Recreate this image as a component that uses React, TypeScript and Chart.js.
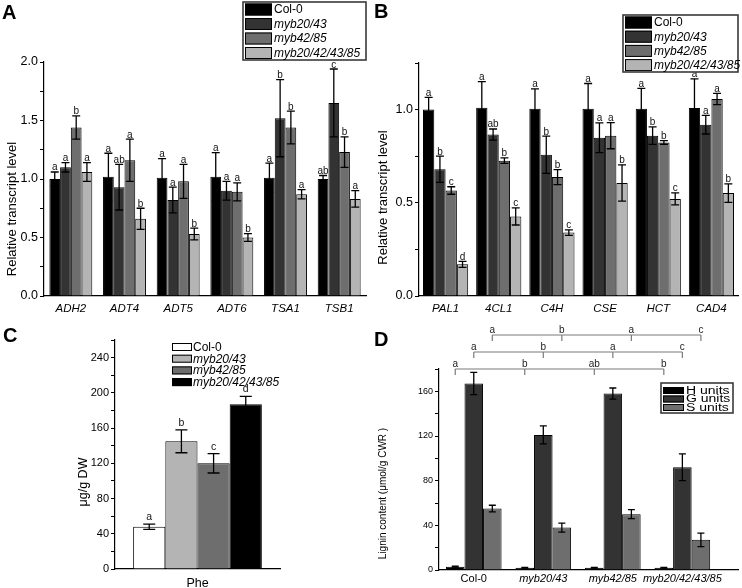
import React, { useEffect, useRef } from 'react';
import { Chart, registerables } from 'chart.js';
Chart.register(...registerables);

const FONT = '"Liberation Sans", Arial, Helvetica, sans-serif';

// ---------- data ----------
const genotypes = ['Col-0', 'myb20/43', 'myb42/85', 'myb20/42/43/85'];

const genesA = ['ADH2', 'ADT4', 'ADT5', 'ADT6', 'TSA1', 'TSB1'];
const aCol0 = [1.0, 1.02, 1.01, 1.02, 1.01, 1.0];
const aMyb2043 = [1.1, 0.93, 0.82, 0.9, 1.52, 1.65];
const aMyb4285 = [1.44, 1.16, 0.98, 0.89, 1.44, 1.23];
const aQuad = [1.06, 0.66, 0.53, 0.5, 0.87, 0.83];
const aCol0Err = [0.06, 0.2, 0.165, 0.205, 0.125, 0.03];
const aMyb2043Err = [0.04, 0.195, 0.11, 0.08, 0.33, 0.29];
const aMyb4285Err = [0.1, 0.18, 0.145, 0.077, 0.14, 0.13];
const aQuadErr = [0.08, 0.09, 0.05, 0.033, 0.04, 0.07];
const aCol0Sig = ['a', 'a', 'a', 'a', 'a', 'ab'];
const aMyb2043Sig = ['a', 'ab', 'a', 'a', 'b', 'c'];
const aMyb4285Sig = ['b', 'a', 'a', 'a', 'b', 'b'];
const aQuadSig = ['a', 'b', 'b', 'b', 'a', 'a'];

const genesB = ['PAL1', '4CL1', 'C4H', 'CSE', 'HCT', 'CAD4'];
const bCol0 = [1.0, 1.01, 1.005, 1.005, 1.004, 1.009];
const bMyb2043 = [0.68, 0.866, 0.758, 0.849, 0.86, 0.919];
const bMyb4285 = [0.566, 0.726, 0.638, 0.86, 0.824, 1.057];
const bQuad = [0.17, 0.427, 0.34, 0.606, 0.521, 0.552];
const bCol0Err = [0.066, 0.14, 0.106, 0.135, 0.11, 0.156];
const bMyb2043Err = [0.07, 0.03, 0.1, 0.08, 0.047, 0.05];
const bMyb4285Err = [0.02, 0.015, 0.04, 0.07, 0.01, 0.03];
const bQuadErr = [0.016, 0.046, 0.015, 0.097, 0.032, 0.05];
const bCol0Sig = ['a', 'a', 'a', 'a', 'a', 'a'];
const bMyb2043Sig = ['b', 'ab', 'b', 'a', 'b', 'a'];
const bMyb4285Sig = ['c', 'b', 'b', 'a', 'b', 'a'];
const bQuadSig = ['d', 'c', 'c', 'b', 'c', 'b'];

const cCategory = ['Phe'];
const cPhe = [48, 145, 120, 187];
const cPheErr = [3, 13, 11, 9];
const cPheSig = ['a', 'b', 'c', 'd'];

const dLines = ['Col-0', 'myb20/43', 'myb42/85', 'myb20/42/43/85'];
const dUnits = ['H units', 'G units', 'S units'];
const dH = [3, 2, 2, 2];
const dG = [167, 121, 158, 92];
const dS = [55, 38, 50, 27];
const dHErr = [0.5, 0.4, 0.4, 0.4];
const dGErr = [10, 8, 5, 12];
const dSErr = [3, 4, 4, 6];
const dHSig = ['a', 'b', 'ab', 'b'];
const dGSig = ['a', 'b', 'a', 'c'];
const dSSig = ['a', 'b', 'a', 'c'];

// ---------- styles ----------
const greysABD = ['#000000', '#333333', '#6e6e6e', '#b4b4b4'];
const greysC = ['#ffffff', '#b4b4b4', '#6e6e6e', '#000000'];

type LegendOpt = {
  x: number; y: number; w: number; h: number; box: boolean;
  rowY: number; rowH: number; sw: number; sh: number; swX: number; textX: number;
  size: number; italicFrom: number; stretch?: number;
};
type Extra = {
  errors?: number[][];
  letters?: string[][];
  cap?: number;
  letterSize?: number;
  letterGap?: number;
  legend?: LegendOpt;
  yTitle?: { text: string; x: number; y: number; size: number };
  panel?: { text: string; x: number; y: number };
  brackets?: { rowY: number[]; letters: string[][]; tick: number };
};

function valOf(raw: any) {
  return typeof raw === 'number' ? raw : raw.y;
}

function makeExtras(ex: Extra) {
  return {
    id: 'extras',
    afterDatasetsDraw(chart: any) {
      const ctx = chart.ctx as CanvasRenderingContext2D;
      const ys = chart.scales.y;
      if (!ex.errors) return;
      ctx.save();
      ctx.strokeStyle = '#000';
      ctx.lineWidth = 1.3;
      ctx.fillStyle = '#111';
      ctx.font = `${ex.letterSize || 10}px ${FONT}`;
      ctx.textAlign = 'center';
      ctx.textBaseline = 'alphabetic';
      const cap = ex.cap || 8;
      chart.data.datasets.forEach((ds: any, di: number) => {
        const meta = chart.getDatasetMeta(di);
        meta.data.forEach((bar: any, j: number) => {
          const v = valOf(ds.data[j]);
          const e = (ex.errors![di] && ex.errors![di][j]) || 0;
          const x = bar.x;
          const top = ys.getPixelForValue(v + e);
          const bot = ys.getPixelForValue(Math.max(0, v - e));
          if (e > 0) {
            ctx.beginPath();
            ctx.moveTo(x, top);
            ctx.lineTo(x, bot);
            ctx.moveTo(x - cap / 2, top);
            ctx.lineTo(x + cap / 2, top);
            ctx.moveTo(x - cap / 2, bot);
            ctx.lineTo(x + cap / 2, bot);
            ctx.stroke();
          }
          const l = ex.letters && ex.letters[di] ? ex.letters[di][j] : '';
          if (l) ctx.fillText(l, x, top - (ex.letterGap ?? 2));
        });
      });
      ctx.restore();
    },
    afterDraw(chart: any) {
      const ctx = chart.ctx as CanvasRenderingContext2D;
      // brackets (panel D)
      if (ex.brackets) {
        const br = ex.brackets;
        ctx.save();
        chart.data.datasets.forEach((ds: any, di: number) => {
          const meta = chart.getDatasetMeta(di);
          const xs = meta.data.map((b: any) => b.x);
          const y = br.rowY[di];
          ctx.strokeStyle = '#7a7a7a';
          ctx.lineWidth = 1.2;
          ctx.beginPath();
          ctx.moveTo(xs[0], y);
          ctx.lineTo(xs[xs.length - 1], y);
          xs.forEach((x: number) => {
            ctx.moveTo(x, y);
            ctx.lineTo(x, y + br.tick);
          });
          ctx.stroke();
          ctx.fillStyle = '#222';
          ctx.font = `10px ${FONT}`;
          ctx.textAlign = 'center';
          ctx.textBaseline = 'alphabetic';
          xs.forEach((x: number, j: number) => ctx.fillText(br.letters[di][j], x, y - 2.5));
        });
        ctx.restore();
      }
      // legend
      if (ex.legend) {
        const lg = ex.legend;
        ctx.save();
        if (lg.box) {
          ctx.fillStyle = '#fff';
          ctx.fillRect(lg.x, lg.y, lg.w, lg.h);
          ctx.strokeStyle = '#3a3a3a';
          ctx.lineWidth = 1.6;
          ctx.strokeRect(lg.x, lg.y, lg.w, lg.h);
        }
        chart.data.datasets.forEach((ds: any, i: number) => {
          const cy = lg.rowY + i * lg.rowH;
          ctx.fillStyle = ds.backgroundColor;
          ctx.fillRect(lg.swX, cy - lg.sh / 2, lg.sw, lg.sh);
          ctx.strokeStyle = '#000';
          ctx.lineWidth = 1;
          ctx.strokeRect(lg.swX + 0.5, cy - lg.sh / 2 + 0.5, lg.sw - 1, lg.sh - 1);
          ctx.fillStyle = '#000';
          const italic = i >= lg.italicFrom ? 'italic ' : '';
          ctx.font = `${italic}${lg.size}px ${FONT}`;
          ctx.textAlign = 'left';
          ctx.textBaseline = 'middle';
          ctx.save();
          ctx.translate(lg.textX, cy + 0.5);
          ctx.scale(lg.stretch || 1, 1);
          ctx.fillText(ds.label, 0, 0);
          ctx.restore();
        });
        ctx.restore();
      }
      // y title
      if (ex.yTitle) {
        const t = ex.yTitle;
        ctx.save();
        ctx.translate(t.x, t.y);
        ctx.rotate(-Math.PI / 2);
        ctx.fillStyle = '#000';
        ctx.font = `${t.size}px ${FONT}`;
        ctx.textAlign = 'center';
        ctx.textBaseline = 'middle';
        ctx.fillText(t.text, 0, 0);
        ctx.restore();
      }
      // panel letter
      if (ex.panel) {
        ctx.save();
        ctx.fillStyle = '#000';
        ctx.font = `bold 20px ${FONT}`;
        ctx.textAlign = 'left';
        ctx.textBaseline = 'alphabetic';
        ctx.fillText(ex.panel.text, ex.panel.x, ex.panel.y);
        ctx.restore();
      }
    },
  };
}

function isMultiple(v: number, m: number) {
  const r = v / m;
  return Math.abs(r - Math.round(r)) < 1e-6;
}

function yAxis(max: number, step: number, major: number, width: number, size: number, decimals: number) {
  return {
    type: 'linear',
    min: 0,
    max,
    ticks: {
      stepSize: step,
      autoSkip: false,
      color: '#000',
      padding: 2,
      font: { family: FONT, size },
      callback: (v: any) => (isMultiple(Number(v), major) ? Number(v).toFixed(decimals) : ''),
    },
    grid: { display: true, drawOnChartArea: false, drawTicks: true, tickLength: 4, color: '#000', tickColor: '#000', lineWidth: 1 },
    border: { display: true, color: '#000', width: 1.2 },
    afterFit: (s: any) => { s.width = width; },
  };
}

function catAxis(height: number, size: number, italic: boolean, padding: number) {
  return {
    type: 'category',
    grid: { display: false, drawTicks: false },
    border: { display: true, color: '#000', width: 1.2 },
    ticks: {
      color: '#000',
      autoSkip: false,
      maxRotation: 0,
      padding,
      font: { family: FONT, size, style: italic ? 'italic' : 'normal' },
    },
    afterFit: (s: any) => { s.height = height; },
  };
}

function barSet(label: string, data: any[], color: string, cat: number) {
  return {
    label,
    data,
    backgroundColor: color,
    borderColor: '#000',
    borderWidth: 1,
    categoryPercentage: cat,
    barPercentage: 1,
  };
}

const baseOpts = {
  responsive: false,
  animation: false,
  events: [],
  plugins: { legend: { display: false }, tooltip: { enabled: false } },
};

function configA(): any {
  return {
    type: 'bar',
    data: {
      labels: genesA,
      datasets: [
        barSet(genotypes[0], aCol0, greysABD[0], 0.8),
        barSet(genotypes[1], aMyb2043, greysABD[1], 0.8),
        barSet(genotypes[2], aMyb4285, greysABD[2], 0.8),
        barSet(genotypes[3], aQuad, greysABD[3], 0.8),
      ],
    },
    options: {
      ...baseOpts,
      layout: { padding: { left: 0, top: 62, right: 5, bottom: 0 } },
      scales: { x: catAxis(24, 11.5, true, 6), y: yAxis(2, 0.25, 0.5, 44, 12.5, 1) },
    },
    plugins: [makeExtras({
      errors: [aCol0Err, aMyb2043Err, aMyb4285Err, aQuadErr],
      letters: [aCol0Sig, aMyb2043Sig, aMyb4285Sig, aQuadSig],
      cap: 8, letterSize: 10, letterGap: 1.5,
      legend: { x: 243, y: 2, w: 123, h: 58, box: true, rowY: 9.5, rowH: 14.5, sw: 27, sh: 12, swX: 245, textX: 274, size: 12, italicFrom: 1 },
      yTitle: { text: 'Relative transcript level', x: 12, y: 209, size: 13 },
      panel: { text: 'A', x: 2, y: 19 },
    })],
  };
}

function configB(): any {
  return {
    type: 'bar',
    data: {
      labels: genesB,
      datasets: [
        barSet(genotypes[0], bCol0, greysABD[0], 0.85),
        barSet(genotypes[1], bMyb2043, greysABD[1], 0.85),
        barSet(genotypes[2], bMyb4285, greysABD[2], 0.85),
        barSet(genotypes[3], bQuad, greysABD[3], 0.85),
      ],
    },
    options: {
      ...baseOpts,
      layout: { padding: { left: 0, top: 63, right: 4, bottom: 0 } },
      scales: { x: catAxis(24, 11.5, true, 6), y: yAxis(1.25, 0.25, 0.5, 48, 12.5, 1) },
    },
    plugins: [makeExtras({
      errors: [bCol0Err, bMyb2043Err, bMyb4285Err, bQuadErr],
      letters: [bCol0Sig, bMyb2043Sig, bMyb4285Sig, bQuadSig],
      cap: 8, letterSize: 10, letterGap: 1.5,
      legend: { x: 252, y: 15, w: 115, h: 57, box: true, rowY: 22.5, rowH: 14.2, sw: 27, sh: 12, swX: 254, textX: 283, size: 12, italicFrom: 1 },
      yTitle: { text: 'Relative transcript level', x: 12.5, y: 197.5, size: 13 },
      panel: { text: 'B', x: 3, y: 18 },
    })],
  };
}

function configC(): any {
  return {
    type: 'bar',
    data: {
      labels: cCategory,
      datasets: genotypes.map((g, i) => barSet(g, [cPhe[i]], greysC[i], 0.78)),
    },
    options: {
      ...baseOpts,
      layout: { padding: { left: 0, top: 20, right: 91, bottom: 0 } },
      scales: { x: catAxis(19, 12.5, false, 7), y: yAxis(260, 20, 40, 115, 11, 0) },
    },
    plugins: [makeExtras({
      errors: genotypes.map((_, i) => [cPheErr[i]]),
      letters: genotypes.map((_, i) => [cPheSig[i]]),
      cap: 12, letterSize: 10.5, letterGap: 4,
      legend: { x: 172, y: 22, w: 0, h: 0, box: false, rowY: 27, rowH: 11.7, sw: 20, sh: 8, swX: 172, textX: 193, size: 12, italicFrom: 1 },
      yTitle: { text: 'μg/g DW', x: 84, y: 162, size: 12.5 },
      panel: { text: 'C', x: 3, y: 22 },
    })],
  };
}

function configD(): any {
  const toXY = (arr: number[]) => arr.map((v, i) => ({ x: i + 1, y: v }));
  return {
    type: 'bar',
    data: {
      datasets: [
        barSet(dUnits[0], toXY(dH), greysABD[0], 0.8),
        barSet(dUnits[1], toXY(dG), greysABD[1], 0.8),
        barSet(dUnits[2], toXY(dS), greysABD[2], 0.8),
      ],
    },
    options: {
      ...baseOpts,
      layout: { padding: { left: 0, top: 49, right: 4, bottom: 0 } },
      scales: {
        x: {
          type: 'linear',
          offset: false,
          min: 0.5,
          max: 4.8,
          grid: { display: false, drawTicks: false, offset: false },
          border: { display: true, color: '#000', width: 1.2 },
          afterBuildTicks: (s: any) => { s.ticks = dLines.map((_, i) => ({ value: i + 1 })); },
          ticks: {
            color: '#000',
            autoSkip: false,
            maxRotation: 0,
            padding: 2,
            font: (c: any) => ({ family: FONT, size: 11, style: c.index === 0 ? 'normal' : 'italic' }),
            callback: (v: any) => dLines[Math.round(Number(v)) - 1] ?? '',
          },
          afterFit: (s: any) => { s.height = 18; },
        },
        y: yAxis(180, 20, 40, 68, 9, 0),
      },
    },
    plugins: [makeExtras({
      errors: [dHErr, dGErr, dSErr],
      letters: [],
      cap: 7,
      brackets: { rowY: [49, 32, 15], letters: [dHSig, dGSig, dSSig], tick: 6 },
      legend: { x: 290, y: 63, w: 72, h: 30, box: true, rowY: 70.5, rowH: 8.5, sw: 21, sh: 7, swX: 292, textX: 315, size: 10, italicFrom: 9, stretch: 1.4 },
      yTitle: { text: 'Lignin content (μmol/g CWR )', x: 12.5, y: 173.5, size: 10 },
      panel: { text: 'D', x: 3, y: 26 },
    })],
  };
}

function ChartCanvas({ make, left, top, width, height }: { make: () => any; left: number; top: number; width: number; height: number }) {
  const ref = useRef<HTMLCanvasElement>(null);
  useEffect(() => {
    if (!ref.current) return;
    const chart = new Chart(ref.current, make());
    return () => chart.destroy();
  }, []);
  return (
    <canvas
      ref={ref}
      width={width}
      height={height}
      style={{ position: 'absolute', left, top, width, height, display: 'block' }}
    />
  );
}

export default function App() {
  Chart.defaults.font.family = FONT;
  Chart.defaults.color = '#000';
  return (
    <div style={{ position: 'absolute', left: 0, top: 0, width: 742, height: 588, background: '#fff', overflow: 'hidden' }}>
      <ChartCanvas make={configA} left={0} top={0} width={371} height={320} />
      <ChartCanvas make={configB} left={371} top={0} width={371} height={320} />
      <ChartCanvas make={configC} left={0} top={320} width={371} height={268} />
      <ChartCanvas make={configD} left={371} top={320} width={371} height={268} />
    </div>
  );
}
